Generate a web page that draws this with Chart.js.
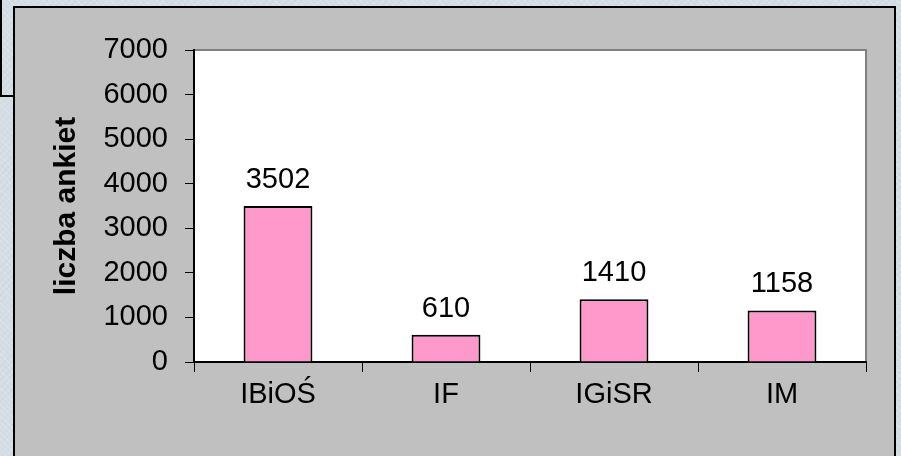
<!DOCTYPE html>
<html>
<head>
<meta charset="utf-8">
<script src="https://cdn.jsdelivr.net/npm/chart.js@4"></script>
<style>
  html, body { margin: 0; padding: 0; }
  body {
    width: 901px; height: 456px; overflow: hidden; position: relative;
    background-color: #d3dde4;
    background-image:
      repeating-linear-gradient(45deg, rgba(255,255,255,0.18) 0 1px, rgba(0,0,0,0) 1px 4px),
      repeating-linear-gradient(-45deg, rgba(150,170,185,0.12) 0 1px, rgba(0,0,0,0) 1px 5px);
  }
  #tab { position: absolute; left: 0; top: -2px; width: 12px; height: 97px;
         border-left: 2px solid #000; border-bottom: 2px solid #000; }
  #frame { position: absolute; left: 13px; top: 6px; width: 879px; height: 460px;
           background: #c0c0c0; border: 2px solid #000; }
  #myChart { position: absolute; left: 0; top: 0; }
</style>
</head>
<body>
<div id="tab"></div>
<div id="frame"></div>
<canvas id="myChart" width="901" height="456"></canvas>
<script>
// values
const categories = ['IBiOŚ', 'IF', 'IGiSR', 'IM'];
const surveys = [3502, 610, 1410, 1158];
const yTicks = [0, 1000, 2000, 3000, 4000, 5000, 6000, 7000];

const FONT = "'Liberation Sans', Arial, sans-serif";

// white plot area with grey top/right edge, like the old Excel chart
const plotBackground = {
    id: 'plotBackground',
    beforeDraw(chart) {
        const { ctx, chartArea: a } = chart;
        ctx.save();
        ctx.fillStyle = '#ffffff';
        ctx.fillRect(a.left, a.top, a.right - a.left, a.bottom - a.top);
        ctx.strokeStyle = '#808080';
        ctx.lineWidth = 2;
        ctx.beginPath();
        ctx.moveTo(a.left, a.top);
        ctx.lineTo(a.right, a.top);
        ctx.lineTo(a.right, a.bottom);
        ctx.stroke();
        ctx.restore();
    }
};

// value above each bar
const valueLabels = {
    id: 'valueLabels',
    afterDatasetsDraw(chart) {
        const ctx = chart.ctx;
        const meta = chart.getDatasetMeta(0);
        ctx.save();
        ctx.font = '29px ' + FONT;
        ctx.fillStyle = '#000';
        ctx.textAlign = 'center';
        ctx.textBaseline = 'alphabetic';
        meta.data.forEach(function (bar, i) {
            ctx.fillText(String(surveys[i]), bar.x, bar.y - 18);
        });
        ctx.restore();
    }
};

document.addEventListener("DOMContentLoaded", function () {
    const ctx = document.getElementById('myChart');

    new Chart(ctx, {
        type: 'bar',
        data: {
            labels: categories,
            datasets: [{
                label: 'liczba ankiet',
                data: surveys,
                backgroundColor: '#ff99cc',
                borderColor: '#000000',
                borderWidth: 2,
                categoryPercentage: 1,
                barPercentage: 0.41
            }]
        },
        options: {
            responsive: false,
            animation: false,
            devicePixelRatio: 1,
            layout: { padding: { left: 0, top: 50, right: 35, bottom: 0 } },
            plugins: {
                legend: { display: false },
                tooltip: { enabled: false }
            },
            scales: {
                x: {
                    grid: { offset: true, drawOnChartArea: false, tickLength: 10, color: '#000', lineWidth: 1 },
                    border: { display: true, color: '#000', width: 2 },
                    ticks: { color: '#000', font: { family: FONT, size: 29 }, padding: 6, maxRotation: 0 },
                    afterFit(scale) { scale.height = 94; }
                },
                y: {
                    min: 0,
                    max: 7000,
                    afterBuildTicks(scale) { scale.ticks = yTicks.map(v => ({ value: v })); },
                    grid: { drawOnChartArea: false, tickLength: 9, color: '#000', lineWidth: 1 },
                    border: { display: true, color: '#000', width: 2 },
                    ticks: {
                        color: '#000',
                        font: { family: FONT, size: 29 },
                        padding: 17,
                        callback: function (value) { return String(value); }
                    },
                    title: {
                        display: true,
                        text: 'liczba ankiet',
                        color: '#000',
                        font: { family: FONT, size: 30, weight: 'bold' },
                        padding: { top: 49, bottom: 0 }
                    },
                    afterFit(scale) { scale.width = 194; }
                }
            }
        },
        plugins: [plotBackground, valueLabels]
    });
});
</script>
</body>
</html>
